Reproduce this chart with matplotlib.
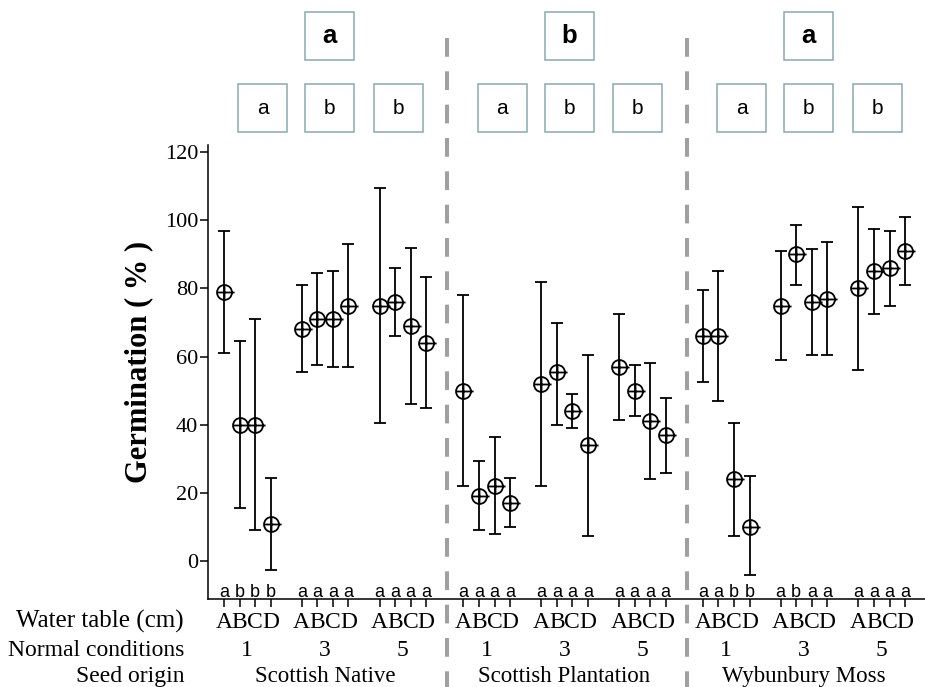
import numpy as np
import matplotlib
matplotlib.use("Agg")
from matplotlib import pyplot as plt
from matplotlib import transforms as mtransforms
from matplotlib.patches import Rectangle
from matplotlib.lines import Line2D
from matplotlib.path import Path

plt.rcParams["font.family"] = "Liberation Serif"
plt.rcParams["lines.scale_dashes"] = False

# data: means and error bar ends, order 1A..1D, 3A..3D, 5A..5D
sites = ["Scottish Native", "Scottish Plantation", "Wybunbury Moss"]
conditions = ["1", "3", "5"]
tables = ["A", "B", "C", "D"]

native_mean = [79, 40, 40, 11, 68, 71, 71, 75, 75, 76, 69, 64]
native_hi = [97, 64.5, 71, 24.5, 81, 84.5, 85, 93, 109.5, 86, 92, 83.5]
native_lo = [61, 15.5, 9, -2.5, 55.5, 57.5, 57, 57, 40.5, 66, 46, 45]

plant_mean = [50, 19, 22, 17, 52, 55.5, 44, 34, 57, 50, 41, 37]
plant_hi = [78, 29.5, 36.5, 24.5, 82, 70, 49, 60.5, 72.5, 57.5, 58, 48]
plant_lo = [22, 9, 8, 10, 22, 40, 39, 7.5, 41.5, 42.5, 24, 26]

wyb_mean = [66, 66, 24, 10, 75, 90, 76, 77, 80, 85, 86, 91]
wyb_hi = [79.5, 85, 40.5, 25, 91, 98.5, 91.5, 93.5, 104, 97.5, 97, 101]
wyb_lo = [52.5, 47, 7.5, -4, 59, 81, 60.5, 60.5, 56, 72.5, 75, 81]

# significance letters
point_letters = [["abbb", "aaaa", "aaaa"],
                 ["aaaa", "aaaa", "aaaa"],
                 ["aabb", "abaa", "aaaa"]]
cond_letters = [["a", "b", "b"], ["a", "b", "b"], ["a", "b", "b"]]
site_letters = ["a", "b", "a"]

means = [native_mean, plant_mean, wyb_mean]
his = [native_hi, plant_hi, wyb_hi]
los = [native_lo, plant_lo, wyb_lo]

W, H = 925, 687
SITE_STEP = 15.4
GROUP_STEP = 5


def fy(py):
    return 1 - py / H


fig = plt.figure(figsize=(W / 100, H / 100), dpi=100)
ax = fig.add_axes([208 / W, fy(599), 717 / W, 454 / H])
ax.set_xlim(-1.03, 45.08)
ax.set_ylim(-11.1, 122.1)

# circle with a plus, tail sticking out on the right
circ = Path.unit_circle()
cross = Path([(0, -1), (0, 1), (-1, 0), (1.35, 0)],
             [Path.MOVETO, Path.LINETO, Path.MOVETO, Path.LINETO])
oplus = Path.make_compound_path(circ, cross)

trans = mtransforms.blended_transform_factory(ax.transData, fig.transFigure)
box_col = "#8aa9ad"
box_off = [2.5, 6.8, 11.2]
bw = 49 / 15.55
bh = 48 / H

all_x = []
for s in range(3):
    x0 = s * SITE_STEP
    xs = np.array([x0 + g * GROUP_STEP + c for g in range(3) for c in range(4)])
    all_x.extend(xs)
    m = np.array(means[s], dtype=float)
    lo = np.array(los[s], dtype=float)
    hi = np.array(his[s], dtype=float)
    ax.errorbar(xs, m, yerr=[m - lo, hi - m], fmt="none", ecolor="black",
                elinewidth=1.3, capsize=4.3, capthick=1.3)
    ax.plot(xs, m, linestyle="none", marker=oplus, markersize=14.5,
            markerfacecolor="none", markeredgecolor="black", markeredgewidth=1.3)

    for g in range(3):
        gx = x0 + g * GROUP_STEP
        for c in range(4):
            ax.text(gx + c, -10.4, point_letters[s][g][c], family="Liberation Sans",
                    fontsize=13, ha="center", va="baseline")
            ax.text(gx + c, fy(628), tables[c], transform=trans, fontsize=17,
                    ha="center", va="baseline")
        ax.text(gx + 1.5, fy(656), conditions[g], transform=trans, fontsize=17,
                ha="center", va="baseline")
        # condition boxes
        bx = x0 + box_off[g]
        ax.add_patch(Rectangle((bx - bw / 2, fy(132)), bw, bh, transform=trans,
                               facecolor="white", edgecolor=box_col, lw=1.1, clip_on=False))
        ax.text(bx, fy(108), cond_letters[s][g], transform=trans, family="Liberation Sans",
                fontsize=15, ha="center", va="center")

    ax.text(x0 + 6.5, fy(682), sites[s], transform=trans, fontsize=16.5,
            ha="center", va="baseline")
    # site box
    bx = x0 + box_off[1]
    ax.add_patch(Rectangle((bx - bw / 2, fy(60)), bw, bh, transform=trans,
                           facecolor="white", edgecolor=box_col, lw=1.1, clip_on=False))
    ax.text(bx, fy(36), site_letters[s], transform=trans, family="Liberation Sans",
            fontsize=18.5, fontweight="bold", ha="center", va="center")

    if s > 0:
        ax.add_line(Line2D([x0 - 1.05, x0 - 1.05], [fy(38), 0], transform=trans,
                           color="#a0a0a0", lw=2.9, dashes=(13.5, 10.5), clip_on=False))

# row labels
for txt, py, fs in [("Water table (cm)", 628, 18), ("Normal conditions", 656, 17),
                    ("Seed origin", 682, 17)]:
    fig.text(184 / W, fy(py), txt, fontsize=fs, ha="right", va="baseline")

ax.set_xticks(all_x)
ax.set_xticklabels([])
ax.set_yticks(np.arange(0, 121, 20))
ax.tick_params(axis="y", direction="out", length=6, width=1.1, labelsize=16, pad=1)
ax.tick_params(axis="x", direction="out", length=6, width=1.1)

ax.set_ylabel("Germination ( % )", fontsize=22, fontweight="bold")
ax.yaxis.set_label_coords(-0.077, 0.522)

ax.spines["top"].set_visible(False)
ax.spines["right"].set_visible(False)
ax.spines["left"].set_linewidth(1.1)
ax.spines["bottom"].set_linewidth(1.1)

fig.savefig("out.png", dpi=100)
